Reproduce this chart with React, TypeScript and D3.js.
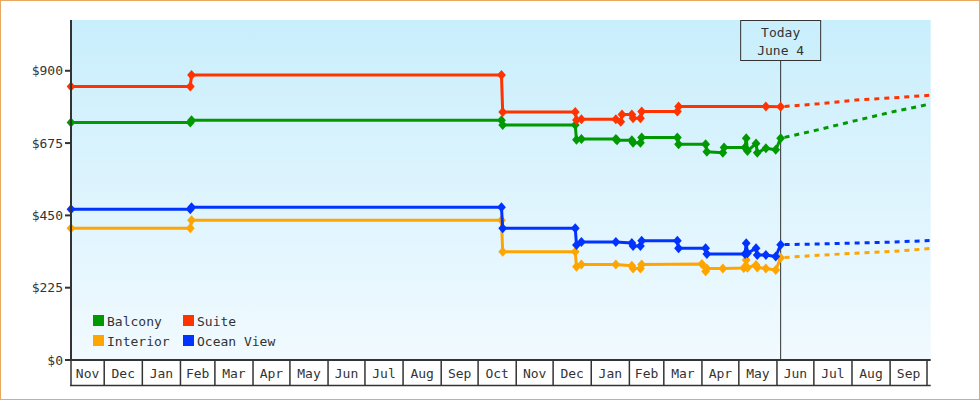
import React from 'react';
import * as d3 from 'd3';

const W = 980;
const H = 400;

const domainStart = '2012-11-04';
const domainEnd = '2014-10-04';
const todayDate = '2014-06-04';
const todayLabel = ['Today', 'June 4'];
const yMax = 1058;
const yTicks = [0, 225, 450, 675, 900];

const interiorHistory: [string, number][] = [
  ['2012-11-04', 410], ['2013-02-09', 410], ['2013-02-10', 435], ['2013-10-20', 435],
  ['2013-10-21', 337], ['2013-12-19', 337], ['2013-12-20', 290], ['2013-12-24', 297],
  ['2014-01-21', 297], ['2014-02-03', 293], ['2014-02-04', 285], ['2014-02-10', 285],
  ['2014-02-11', 297], ['2014-04-01', 299], ['2014-04-04', 276], ['2014-04-05', 285],
  ['2014-04-18', 285], ['2014-05-05', 286], ['2014-05-07', 311], ['2014-05-08', 287],
  ['2014-05-15', 296], ['2014-05-16', 288], ['2014-05-23', 285], ['2014-05-31', 280],
  ['2014-06-04', 318],
];
const oceanHistory: [string, number][] = [
  ['2012-11-04', 469], ['2013-02-09', 469], ['2013-02-10', 475], ['2013-10-20', 475],
  ['2013-10-21', 410], ['2013-12-19', 410], ['2013-12-20', 358], ['2013-12-24', 367],
  ['2014-01-21', 367], ['2014-02-03', 364], ['2014-02-04', 355], ['2014-02-10', 355],
  ['2014-02-11', 371], ['2014-03-12', 371], ['2014-03-13', 348], ['2014-04-04', 348],
  ['2014-04-05', 330], ['2014-05-06', 330], ['2014-05-07', 363], ['2014-05-08', 332],
  ['2014-05-15', 348], ['2014-05-16', 327], ['2014-05-23', 327], ['2014-05-31', 322],
  ['2014-06-04', 359],
];
const balconyHistory: [string, number][] = [
  ['2012-11-04', 739], ['2013-02-09', 739], ['2013-02-10', 746], ['2013-10-20', 746],
  ['2013-10-21', 731], ['2013-12-19', 731], ['2013-12-20', 685], ['2013-12-24', 688],
  ['2014-01-21', 688], ['2014-01-22', 684], ['2014-02-03', 684], ['2014-02-04', 676],
  ['2014-02-10', 676], ['2014-02-11', 692], ['2014-03-12', 692], ['2014-03-13', 671],
  ['2014-04-04', 671], ['2014-04-05', 648], ['2014-04-18', 645], ['2014-04-19', 661],
  ['2014-05-06', 661], ['2014-05-07', 690], ['2014-05-08', 650], ['2014-05-15', 674],
  ['2014-05-16', 645], ['2014-05-23', 659], ['2014-05-31', 654], ['2014-06-04', 690],
];
const suiteHistory: [string, number][] = [
  ['2012-11-04', 851], ['2013-02-09', 851], ['2013-02-10', 887], ['2013-10-20', 887],
  ['2013-10-21', 772], ['2013-12-19', 772], ['2013-12-20', 747], ['2013-12-24', 749],
  ['2014-01-21', 749], ['2014-01-25', 741], ['2014-01-26', 764], ['2014-02-03', 764],
  ['2014-02-04', 752], ['2014-02-10', 752], ['2014-02-11', 773], ['2014-03-12', 773],
  ['2014-03-13', 789], ['2014-05-23', 789], ['2014-06-04', 788],
];

const interiorForecast: [string, number][] = [
  ['2014-06-04', 318], ['2014-07-04', 326], ['2014-08-04', 332], ['2014-09-04', 338], ['2014-10-04', 347],
];
const oceanForecast: [string, number][] = [
  ['2014-06-04', 359], ['2014-07-04', 361], ['2014-08-04', 364], ['2014-09-04', 367], ['2014-10-04', 372],
];
const balconyForecast: [string, number][] = [
  ['2014-06-04', 690], ['2014-07-04', 716], ['2014-08-04', 745], ['2014-09-04', 773], ['2014-10-04', 797],
];
const suiteForecast: [string, number][] = [
  ['2014-06-04', 788], ['2014-07-04', 797], ['2014-08-04', 809], ['2014-09-04', 816], ['2014-10-04', 824],
];

const seriesNames = ['Interior', 'Ocean View', 'Balcony', 'Suite'];
const seriesColors = ['#ffa500', '#0033ff', '#009900', '#ff3300'];
const seriesHistory = [interiorHistory, oceanHistory, balconyHistory, suiteHistory];
const seriesForecast = [interiorForecast, oceanForecast, balconyForecast, suiteForecast];
const legendOrder = ['Balcony', 'Suite', 'Interior', 'Ocean View'];

const FONT = '"DejaVu Sans Mono", monospace';
const INK = '#333333';

const parse = d3.timeParse('%Y-%m-%d');

export default function App() {
  const margin = { left: 71, right: 49.3, top: 20, bottom: 40 };
  const x0 = margin.left;
  const x1 = W - margin.right;
  const yBase = H - margin.bottom;
  const start = parse(domainStart)!;
  const end = parse(domainEnd)!;
  const today = parse(todayDate)!;

  const x = d3.scaleTime().domain([start, end]).range([x0, x1]);
  const y = d3.scaleLinear().domain([0, yMax]).range([yBase, margin.top]);

  const line = d3
    .line<[string, number]>()
    .x((d) => x(parse(d[0])!))
    .y((d) => y(d[1]));

  const monthStarts = d3.timeMonth.range(start, end);
  const bounds = [start, ...monthStarts, end];
  const cells = bounds.slice(0, -1).map((b, i) => ({ a: b, b: bounds[i + 1] }));
  const fmt = d3.timeFormat('%b');

  const tx = x(today);
  const diamond = (cx: number, cy: number) =>
    `M${cx},${cy - 5}L${cx + 4.4},${cy}L${cx},${cy + 5}L${cx - 4.4},${cy}Z`;

  return (
    <svg width={W} height={H} style={{ position: 'absolute', left: 0, top: 0 }} fontFamily={FONT}>
      <defs>
        <linearGradient id="bg" x1="0" y1="0" x2="0" y2="1">
          <stop offset="0" stopColor="#c9eefc" />
          <stop offset="1" stopColor="#f1faff" />
        </linearGradient>
      </defs>
      <rect x={0} y={0} width={W} height={H} fill="#ffffff" />
      <rect x={x0} y={margin.top} width={x1 - x0} height={yBase - margin.top} fill="url(#bg)" />

      {/* Today marker */}
      <line x1={tx} x2={tx} y1={60.7} y2={yBase} stroke={INK} strokeWidth={1} />
      <rect x={tx - 40} y={20.5} width={80} height={40} fill="none" stroke={INK} strokeWidth={1} />
      <text x={tx} y={37} textAnchor="middle" fontSize={13} fill={INK}>{todayLabel[0]}</text>
      <text x={tx} y={55} textAnchor="middle" fontSize={13} fill={INK}>{todayLabel[1]}</text>

      {/* Series */}
      {seriesNames.map((name, i) => (
        <g key={name}>
          <path
            d={line(seriesForecast[i]) || ''}
            fill="none"
            stroke={seriesColors[i]}
            strokeWidth={3}
            strokeDasharray="5,5"
            strokeDashoffset={-4}
          />
          <path
            d={line(seriesHistory[i]) || ''}
            fill="none"
            stroke={seriesColors[i]}
            strokeWidth={3}
            strokeLinejoin="round"
          />
          {seriesHistory[i].map((d, j) => (
            <path key={j} d={diamond(x(parse(d[0])!), y(d[1]))} fill={seriesColors[i]} />
          ))}
        </g>
      ))}

      {/* Y axis */}
      <line x1={x0} x2={x0} y1={margin.top} y2={yBase + 1} stroke={INK} strokeWidth={2} />
      {yTicks.map((t) => (
        <g key={t}>
          <line x1={x0 - 6} x2={x0} y1={y(t)} y2={y(t)} stroke={INK} strokeWidth={2} />
          <text x={x0 - 8} y={y(t)} dy="0.35em" textAnchor="end" fontSize={13} fill={INK}>
            {'$' + t}
          </text>
        </g>
      ))}

      {/* X axis cells */}
      <line x1={x0 - 1} x2={x1} y1={yBase} y2={yBase} stroke={INK} strokeWidth={2} />
      <line x1={x0 - 1} x2={x1} y1={385.5} y2={385.5} stroke={INK} strokeWidth={1.5} />
      {bounds.slice(0, -1).map((b, i) => (
        <line key={i} x1={x(b)} x2={x(b)} y1={yBase} y2={385.5} stroke={INK} strokeWidth={1.5} />
      ))}
      {cells.map((c, i) => {
        const w = x(c.b) - x(c.a);
        if (w < 20) return null;
        return (
          <text key={i} x={(x(c.a) + x(c.b)) / 2} y={378} textAnchor="middle" fontSize={13} fill={INK}>
            {fmt(c.a)}
          </text>
        );
      })}

      {/* Legend */}
      {legendOrder.map((name, k) => {
        const idx = seriesNames.indexOf(name);
        const col = k % 2;
        const row = Math.floor(k / 2);
        const lx = col === 0 ? 93 : 183;
        const ly = 315 + row * 20;
        return (
          <g key={name}>
            <rect x={lx} y={ly} width={11} height={11} fill={seriesColors[idx]} />
            <text x={lx + 14} y={ly + 10.5} fontSize={13} fill={INK}>{name}</text>
          </g>
        );
      })}

      <rect x={0.5} y={0.5} width={W - 1} height={H - 1} fill="none" stroke="#e8a862" strokeWidth={1} />
    </svg>
  );
}
